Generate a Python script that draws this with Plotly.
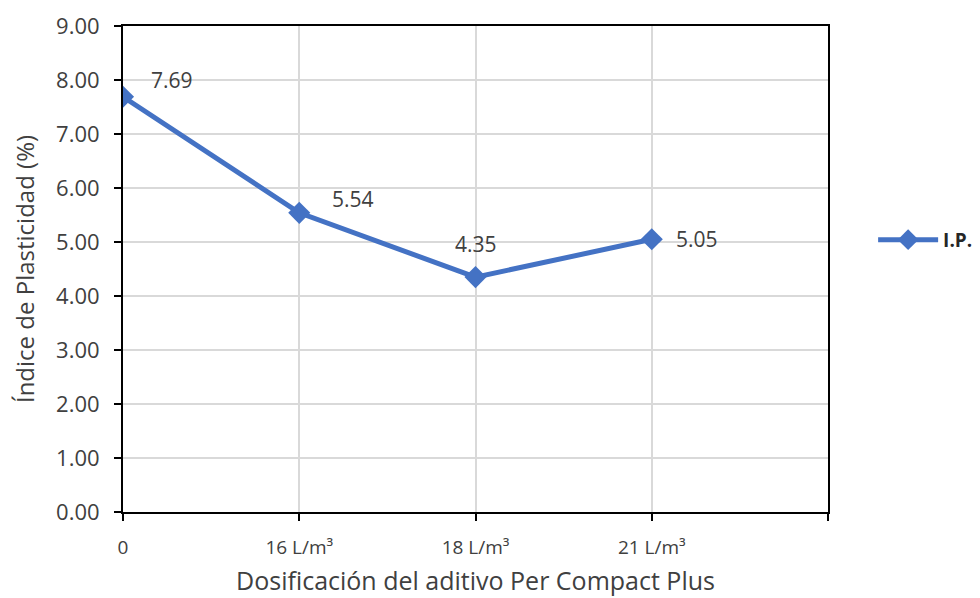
import plotly.graph_objects as go

# Dosificación del aditivo y su índice de plasticidad
dosis = ["0", "16 L/m³", "18 L/m³", "21 L/m³"]
indice_plasticidad = [7.69, 5.54, 4.35, 5.05]

# desplazamiento (px) de cada etiqueta de valor respecto a su marcador
label_dx = [49, 54, 0, 45]
label_dy = [17, 14, 33, 0]

pos = list(range(len(dosis)))
FONT = "Open Sans, Lato, sans-serif"

fig = go.Figure()
fig.add_trace(go.Scatter(
    x=pos, y=indice_plasticidad, mode="lines+markers", name="<b>I.P.</b>",
    line=dict(color="#4472C4", width=5),
    marker=dict(symbol="diamond", size=17, color="#4472C4"),
))

for xi, yi, dx, dy in zip(pos, indice_plasticidad, label_dx, label_dy):
    fig.add_annotation(
        x=xi, y=yi, text=f"{yi:.2f}", showarrow=False,
        xshift=dx, yshift=dy,
        font=dict(family=FONT, size=21, color="#404040"),
    )

fig.update_layout(
    width=980, height=598,
    margin=dict(l=123, r=152, t=26, b=86, autoexpand=False),
    paper_bgcolor="white", plot_bgcolor="white",
    font=dict(family=FONT, color="#404040"),
    showlegend=True,
    legend=dict(x=1.064, y=0.56, xanchor="left", yanchor="middle",
                font=dict(size=19, color="#262626", family=FONT),
                bgcolor="rgba(0,0,0,0)", itemwidth=60),
)

fig.update_xaxes(
    range=[0, len(dosis)],
    tickmode="array", tickvals=list(range(len(dosis) + 1)),
    ticktext=dosis + [""],
    showgrid=True, gridcolor="#d9d9d9", gridwidth=1.5,
    showline=True, mirror=True, linecolor="black", linewidth=2,
    ticks="outside", ticklen=7, tickwidth=2, tickcolor="black",
    ticklabelstandoff=10,
    tickfont=dict(size=19, color="#404040"),
    title=dict(text="Dosificación del aditivo Per Compact Plus",
               font=dict(size=25, color="#404040"), standoff=14),
    zeroline=False,
)

fig.update_yaxes(
    range=[0, 9], dtick=1, tickformat=".2f",
    showgrid=True, gridcolor="#d9d9d9", gridwidth=1.5,
    showline=True, mirror=True, linecolor="black", linewidth=2,
    ticks="outside", ticklen=7, tickwidth=2, tickcolor="black",
    ticklabelstandoff=10,
    tickfont=dict(size=22, color="#404040"),
    title=dict(text="Índice de Plasticidad (%)",
               font=dict(size=24, color="#404040"), standoff=15),
    zeroline=False,
)

fig.write_html("out.html")
